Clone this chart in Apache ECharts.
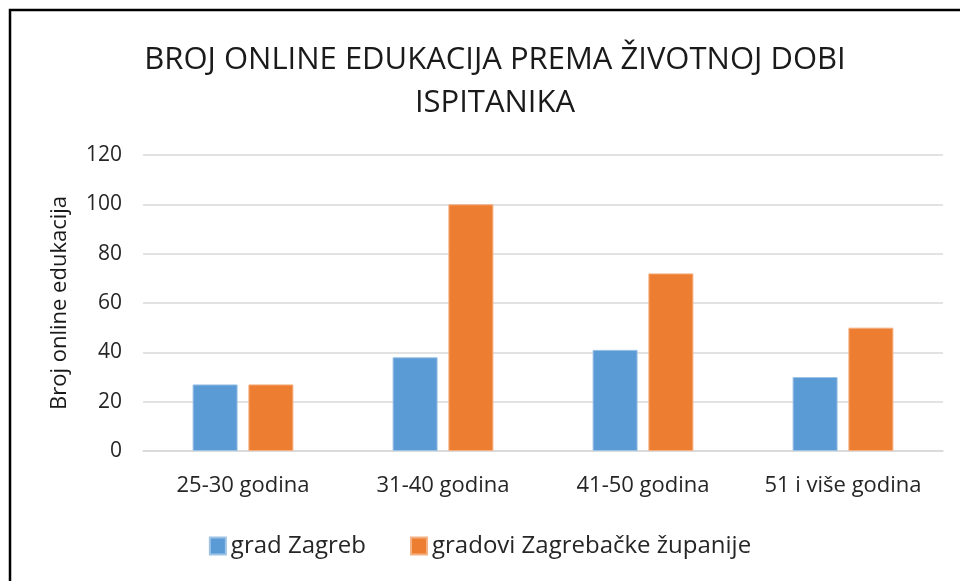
<!DOCTYPE html>
<html><head><meta charset="utf-8">
<script src="https://cdn.jsdelivr.net/npm/echarts@6/dist/echarts.min.js"></script>
<style>html,body{margin:0;padding:0;background:#fff}#c{width:960px;height:581px}</style>
</head><body><div id="c"></div>
<script>
const categories = ['25-30 godina', '31-40 godina', '41-50 godina', '51 i više godina'];
const seriesNames = ['grad Zagreb', 'gradovi Zagrebačke županije'];
const zagreb = [27, 38, 41, 30];
const zupanija = [27, 100, 72, 50];
const yTicks = [0, 20, 40, 60, 80, 100, 120];
const FONT = '"Open Sans", "Liberation Sans", sans-serif';
const chart = echarts.init(document.getElementById('c'));
chart.setOption({
  animation: false,
  backgroundColor: '#fff',
  textStyle: { fontFamily: FONT },
  title: {
    text: 'BROJ ONLINE EDUKACIJA PREMA ŽIVOTNOJ DOBI\nISPITANIKA',
    left: 490, top: 34, textAlign: 'center',
    textStyle: { fontFamily: FONT, fontSize: 31, fontWeight: 'normal', color: '#1a1a1a', lineHeight: 43 }
  },
  graphic: [{ type: 'rect', shape: { x: 10, y: 10, width: 980, height: 600 }, style: { fill: 'none', stroke: '#000', lineWidth: 2.5 } }],
  legend: {
    bottom: 18, left: 'center', itemWidth: 16, itemHeight: 17, itemGap: 44,
    icon: 'rect',
    textStyle: { fontFamily: FONT, fontSize: 24, color: '#262626' },
    data: seriesNames
  },
  grid: { left: 143, right: 17, top: 155, bottom: 130 },
  xAxis: {
    type: 'category', data: categories,
    axisTick: { show: false },
    axisLine: { lineStyle: { color: '#d9d9d9', width: 1.5 } },
    axisLabel: { interval: 0, fontFamily: FONT, fontSize: 22, color: '#262626', margin: 24 }
  },
  yAxis: {
    type: 'value', min: yTicks[0], max: yTicks[yTicks.length - 1], interval: 20,
    name: 'Broj online edukacija', nameLocation: 'middle', nameGap: 72,
    nameTextStyle: { fontFamily: FONT, fontSize: 22, color: '#1a1a1a' },
    axisLabel: { fontFamily: FONT, fontSize: 21, color: '#262626', margin: 21 },
    splitLine: { lineStyle: { color: '#d9d9d9', width: 1.5 } },
    axisLine: { show: false }, axisTick: { show: false }
  },
  series: [
    { name: seriesNames[0], type: 'bar', data: zagreb, barWidth: 45, barGap: '24%',
      itemStyle: { color: '#5B9BD5', borderColor: '#9dc3e6', borderWidth: 1 } },
    { name: seriesNames[1], type: 'bar', data: zupanija, barWidth: 45,
      itemStyle: { color: '#ED7D31', borderColor: '#f4b183', borderWidth: 1 } }
  ]
});
</script></body></html>
